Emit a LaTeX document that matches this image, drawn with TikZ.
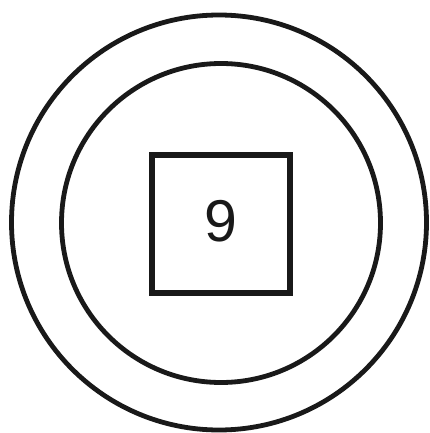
\documentclass[tikz,border=0pt]{standalone}
\usepackage{fontspec}
\setmainfont{Liberation Sans}
\usetikzlibrary{positioning}
\begin{document}
\begin{tikzpicture}[
    x=1pt, y=-1pt,
    anillo/.style={draw, circle, line width=4.8pt, inner sep=0pt, color=black!90},
    caja/.style={draw, line width=5.2pt, minimum size=138pt, inner sep=0pt, text depth=6pt, color=black!90, font=\fontsize{59}{59}\selectfont},
]
    \useasboundingbox (0,0) rectangle (429,433);
    \node[anillo, minimum size=415pt] (exterior) at (219,222.5) {};
    \node[anillo, minimum size=319pt] (interior) at (221,223) {};
    \node[caja] (cuadro) at (221,224) {9};
\end{tikzpicture}
\end{document}
